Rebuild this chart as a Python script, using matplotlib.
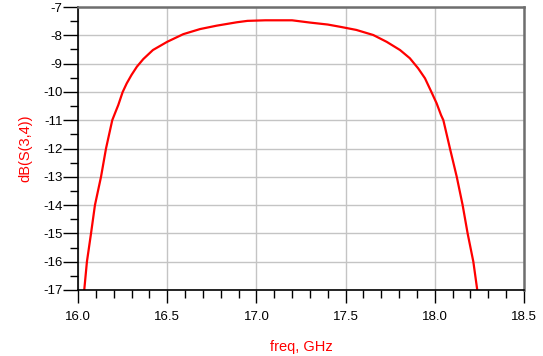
import matplotlib

matplotlib.use("Agg")
import matplotlib.pyplot as plt
from matplotlib.ticker import MultipleLocator

plt.rcParams["font.family"] = ["Liberation Sans", "DejaVu Sans"]

freq = [16.035, 16.05, 16.073, 16.095, 16.129, 16.157, 16.192, 16.207, 16.226,
        16.25, 16.273, 16.30, 16.33, 16.366, 16.42, 16.50, 16.59, 16.684,
        16.777, 16.89, 16.95, 17.05, 17.2, 17.30, 17.40, 17.47, 17.56, 17.655,
        17.73, 17.805, 17.86, 17.907, 17.945, 17.98, 18.01, 18.035, 18.048,
        18.085, 18.123, 18.156, 18.184, 18.216, 18.238]
s34_db = [-17, -16, -15, -14, -13, -12, -11, -10.76, -10.46,
          -10.01, -9.70, -9.40, -9.11, -8.84, -8.52, -8.23, -7.96, -7.78,
          -7.66, -7.54, -7.49, -7.47, -7.47, -7.55, -7.62, -7.70, -7.81, -7.99,
          -8.23, -8.52, -8.81, -9.17, -9.52, -9.99, -10.40, -10.82, -11.0,
          -12, -13, -14, -15, -16, -17]

fig = plt.figure(figsize=(5.43, 3.56), dpi=100)
ax = fig.add_axes([78 / 543, 1 - 290 / 356, (524 - 78) / 543, (290 - 7) / 356])

ax.plot(freq, s34_db, color="#ff0000", linewidth=1.6)

ax.set_xlim(16.0, 18.5)
ax.set_ylim(-17, -7)
ax.xaxis.set_major_locator(MultipleLocator(0.5))
ax.xaxis.set_minor_locator(MultipleLocator(0.1))
ax.yaxis.set_major_locator(MultipleLocator(1))
ax.yaxis.set_minor_locator(MultipleLocator(0.5))
ax.xaxis.set_major_formatter(lambda v, p: f"{v:.1f}")
ax.yaxis.set_major_formatter(lambda v, p: f"{v:.0f}")

ax.grid(True, which="major", color="#c4c4c4", linewidth=1.0)
ax.set_axisbelow(True)

ax.tick_params(axis="y", which="major", length=11, width=1, pad=0, labelsize=9.5)
ax.tick_params(axis="y", which="minor", length=6, width=1)
ax.tick_params(axis="x", which="major", length=9, width=1, pad=6, labelsize=9.5)
ax.tick_params(axis="x", which="minor", length=5.5, width=1)

for side in ("left", "bottom"):
    ax.spines[side].set_color("black")
    ax.spines[side].set_linewidth(1.2)
for side in ("top", "right"):
    ax.spines[side].set_color("#6e6e6e")
    ax.spines[side].set_linewidth(1.8)

ax.set_xlabel("freq, GHz", color="#ff0000", fontsize=10.5, labelpad=12)
ax.set_ylabel("dB(S(3,4))", color="#ff0000", fontsize=10.5, labelpad=8)

fig.savefig("out.png", dpi=100)
